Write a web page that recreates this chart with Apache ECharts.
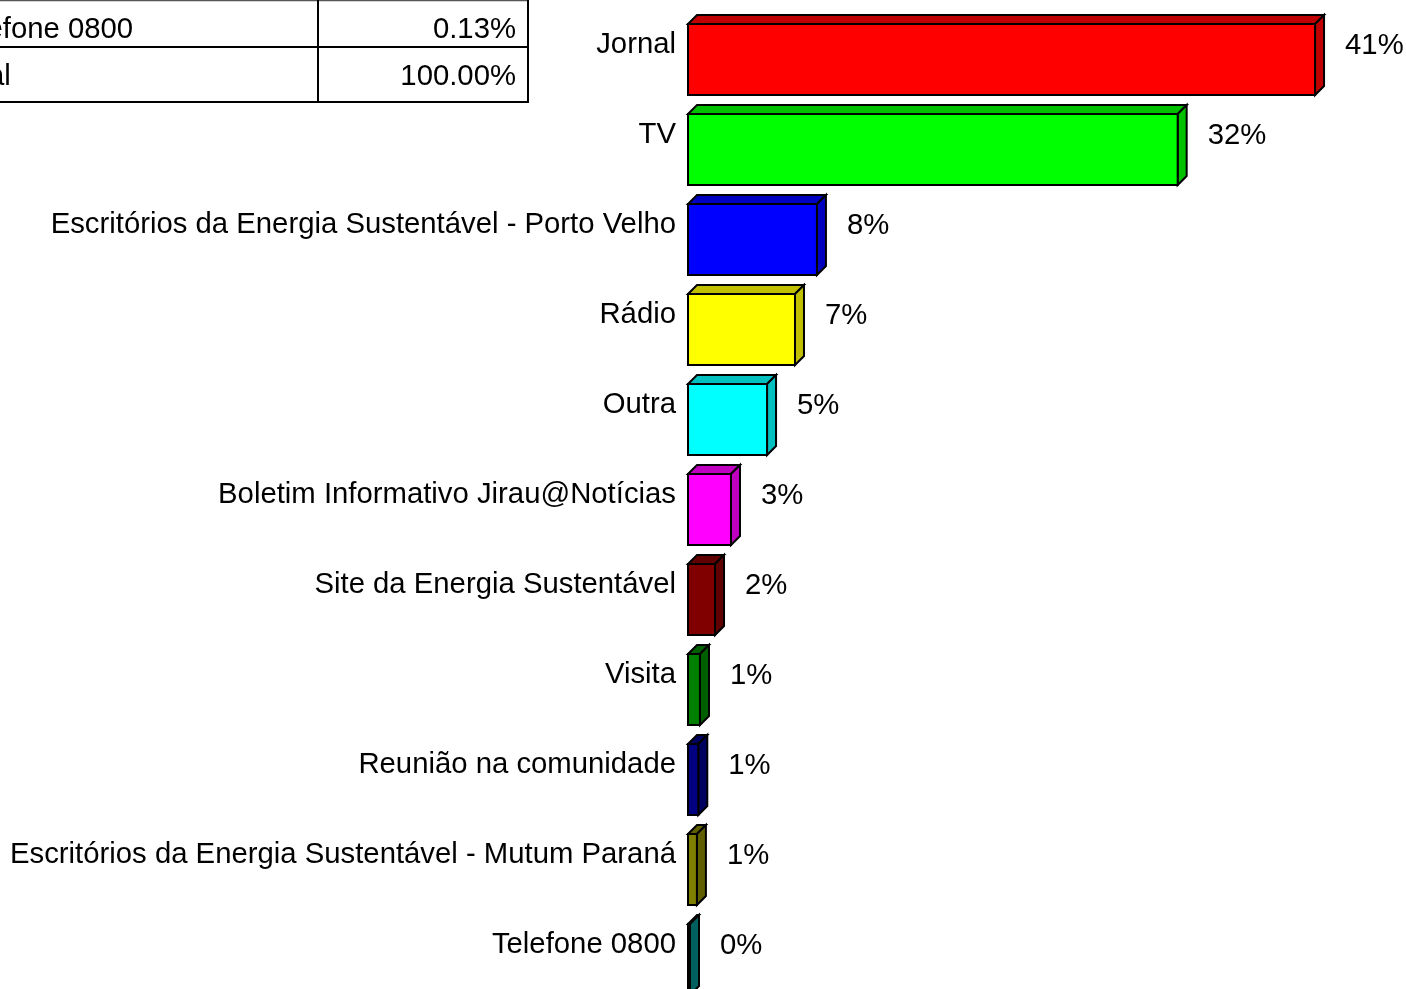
<!DOCTYPE html>
<html>
<head>
<meta charset="utf-8">
<script src="https://cdn.jsdelivr.net/npm/echarts@6/dist/echarts.min.js"></script>
<style>
html,body{margin:0;padding:0;background:#fff;overflow:hidden;}
#chart{width:1406px;height:989px;}
</style>
</head>
<body>
<div id="chart"></div>
<script>
const categories = ['Jornal','TV','Escritórios da Energia Sustentável - Porto Velho','Rádio','Outra','Boletim Informativo Jirau@Notícias','Site da Energia Sustentável','Visita','Reunião na comunidade','Escritórios da Energia Sustentável - Mutum Paraná','Telefone 0800'];
const values = [40.85, 31.9, 8.4, 6.97, 5.15, 2.8, 1.76, 0.78, 0.67, 0.58, 0.13];
const valueLabels = ['41%','32%','8%','7%','5%','3%','2%','1%','1%','1%','0%'];
const tableNames = ['Telefone 0800','Total'];
const tablePercents = ['0.13%','100.00%'];

const frontColors = ['#FF0000','#00FF00','#0000FF','#FFFF00','#00FFFF','#FF00FF','#800000','#008000','#000080','#808000','#008080'];
const sideColors = ['#C00000','#00C000','#0000C0','#C0C000','#00C0C0','#C000C0','#600000','#006000','#000060','#606000','#006060'];

const FONT = '"Liberation Sans", Arial, sans-serif';
const FS = 29.3;

const chart = echarts.init(document.getElementById('chart'), null, {renderer:'canvas'});

function renderItem(params, api) {
  const i = api.value(1);
  const v = api.value(0);
  const p0 = api.coord([0, i]);
  const p1 = api.coord([v, i]);
  const band = api.size([0, 1])[1];
  const h = band * 0.79;
  const d = band * 0.1;
  const x0 = p0[0], x1 = p1[0];
  const yt = p0[1] - h / 2, yb = p0[1] + h / 2;
  const stroke = {stroke:'#000', lineWidth:2, lineJoin:'miter'};
  return {
    type: 'group',
    children: [
      {type:'polygon', shape:{points:[[x0,yt],[x0+d,yt-d],[x1+d,yt-d],[x1,yt]]}, style:Object.assign({fill:sideColors[i]}, stroke)},
      {type:'polygon', shape:{points:[[x1,yt],[x1+d,yt-d],[x1+d,yb-d],[x1,yb]]}, style:Object.assign({fill:sideColors[i]}, stroke)},
      {type:'rect', shape:{x:x0, y:yt, width:x1-x0, height:h}, style:Object.assign({fill:frontColors[i]}, stroke)},
      {type:'text', x:x1 + 30, y:p0[1] - 14, style:{text:valueLabels[i], fill:'#000', fontSize:FS, fontFamily:FONT, align:'left', verticalAlign:'middle'}}
    ]
  };
}

const lineStyle = {stroke:'#000', lineWidth:2};
const graphics = [
  {type:'line', shape:{x1:0,y1:0.5,x2:529,y2:0.5}, style:{stroke:'#555', lineWidth:1.5}},
  {type:'line', shape:{x1:0,y1:47,x2:529,y2:47}, style:lineStyle},
  {type:'line', shape:{x1:0,y1:102,x2:529,y2:102}, style:lineStyle},
  {type:'line', shape:{x1:318,y1:0,x2:318,y2:103}, style:lineStyle},
  {type:'line', shape:{x1:528,y1:0,x2:528,y2:103}, style:lineStyle},
  {type:'text', x:-51, y:30, style:{text:tableNames[0], fill:'#000', fontSize:FS, fontFamily:FONT, align:'left', verticalAlign:'middle'}},
  {type:'text', x:-51, y:77, style:{text:tableNames[1], fill:'#000', fontSize:FS, fontFamily:FONT, align:'left', verticalAlign:'middle'}},
  {type:'text', x:516, y:30, style:{text:tablePercents[0], fill:'#000', fontSize:FS, fontFamily:FONT, align:'right', verticalAlign:'middle'}},
  {type:'text', x:516, y:77, style:{text:tablePercents[1], fill:'#000', fontSize:FS, fontFamily:FONT, align:'right', verticalAlign:'middle'}}
];

chart.setOption({
  animation: false,
  backgroundColor: '#fff',
  grid: {left: 688, top: 14.5, width: 767.5, height: 990, containLabel: false, outerBoundsMode: 'none'},
  xAxis: {type:'value', min:0, max:50, show:false},
  yAxis: {
    type:'category', inverse:true, data:categories,
    axisLine:{show:false}, axisTick:{show:false}, splitLine:{show:false},
    axisLabel:{margin:12, fontSize:FS, fontFamily:FONT, color:'#000', verticalAlign:'bottom', lineHeight:29}
  },
  series: [{
    type:'custom',
    renderItem: renderItem,
    clip: false,
    encode: {x:0, y:1},
    data: values.map((v, i) => [v, i])
  }],
  graphic: graphics
});
</script>
</body>
</html>
